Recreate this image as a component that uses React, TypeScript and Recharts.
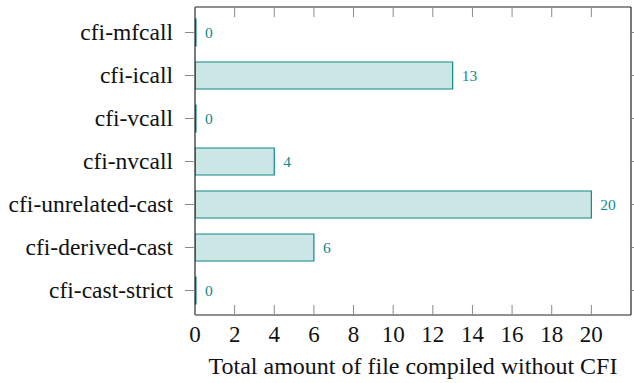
import React from "react";
import {
  BarChart,
  Bar,
  XAxis,
  YAxis,
  LabelList,
} from "recharts";

// Checks, listed top to bottom
const categories = [
  "cfi-mfcall",
  "cfi-icall",
  "cfi-vcall",
  "cfi-nvcall",
  "cfi-unrelated-cast",
  "cfi-derived-cast",
  "cfi-cast-strict",
];

// Number of files compiled without each check
const fileCounts = [0, 13, 0, 4, 20, 6, 0];

const xTicks = [0, 2, 4, 6, 8, 10, 12, 14, 16, 18, 20];
const xAxisTitle = "Total amount of file compiled without CFI";

const data = categories.map((name, i) => ({ name, value: fileCounts[i] }));

const SERIF = "'Liberation Serif', 'Times New Roman', serif";
const TEAL = "#0f8a8a";
const TICK_GRAY = "#8a8a8a";
const AXIS_DARK = "#222";

const BottomTick = (props: any) => {
  const { x, y, payload } = props;
  return (
    <g>
      <line x1={x} y1={y} x2={x} y2={y - 10} stroke={TICK_GRAY} strokeWidth={1} />
      <text
        x={x}
        y={y + 27}
        textAnchor="middle"
        fontFamily={SERIF}
        fontSize={23}
        fill="#111"
      >
        {payload.value}
      </text>
    </g>
  );
};

const TopTick = (props: any) => {
  const { x, y } = props;
  return <line x1={x} y1={y} x2={x} y2={y + 10} stroke={TICK_GRAY} strokeWidth={1} />;
};

const LeftTick = (props: any) => {
  const { x, y, payload } = props;
  return (
    <g>
      <line x1={x} y1={y} x2={x - 10} y2={y} stroke={TICK_GRAY} strokeWidth={1} />
      <text
        x={x - 22}
        y={y}
        dy="0.33em"
        textAnchor="end"
        fontFamily={SERIF}
        fontSize={23.5}
        fill="#111"
      >
        {payload.value}
      </text>
    </g>
  );
};

const RightTick = (props: any) => {
  const { x, y } = props;
  return <line x1={x} y1={y} x2={x + 8} y2={y} stroke={TICK_GRAY} strokeWidth={1} />;
};

const AxisTitle = (props: any) => {
  const { viewBox } = props;
  const cx = viewBox.x + viewBox.width / 2;
  return (
    <text
      x={cx}
      y={374}
      textAnchor="middle"
      fontFamily={SERIF}
      fontSize={24}
      fill="#111"
    >
      {xAxisTitle}
    </text>
  );
};

export default function App() {
  return (
    <div
      style={{
        position: "absolute",
        left: 0,
        top: 0,
        width: 634,
        height: 383,
        overflow: "hidden",
        background: "#fff",
      }}
    >
      {/* main chart: bars, left category axis, bottom value axis */}
      <div style={{ position: "absolute", left: 0, top: 0 }}>
        <BarChart
          width={634}
          height={383}
          data={data}
          layout="vertical"
          margin={{ top: 7, right: 3, bottom: 0, left: 0 }}
          barCategoryGap={0}
        >
          <XAxis
            type="number"
            domain={[0, 22]}
            ticks={xTicks}
            allowDataOverflow
            orientation="bottom"
            height={68}
            tickSize={0}
            tickMargin={0}
            tickLine={false}
            axisLine={{ stroke: AXIS_DARK, strokeWidth: 1.2 }}
            tick={<BottomTick />}
            interval={0}
            label={{ content: <AxisTitle /> }}
          />
          <YAxis
            type="category"
            dataKey="name"
            width={195}
            padding={{ top: 4, bottom: 3 }}
            tickSize={0}
            tickMargin={0}
            tickLine={false}
            axisLine={{ stroke: AXIS_DARK, strokeWidth: 1.2 }}
            tick={<LeftTick />}
            interval={0}
          />
          <Bar
            dataKey="value"
            barSize={27}
            minPointSize={1}
            fill="#cce5e5"
            stroke={TEAL}
            strokeWidth={1.2}
            isAnimationActive={false}
          >
            <LabelList
              dataKey="value"
              position="right"
              offset={9}
              fontFamily={SERIF}
              fontSize={15.5}
              fill={TEAL}
            />
          </Bar>
        </BarChart>
      </div>

      {/* mirrored frame: top value axis and right category axis */}
      <div style={{ position: "absolute", left: 0, top: -23, pointerEvents: "none" }}>
        <BarChart
          width={691}
          height={406}
          data={data}
          layout="vertical"
          margin={{ top: 0, right: 0, bottom: 68, left: 195 }}
          barCategoryGap={0}
        >
          <XAxis
            type="number"
            domain={[0, 22]}
            ticks={xTicks}
            allowDataOverflow
            orientation="top"
            height={30}
            tickSize={0}
            tickMargin={0}
            tickLine={false}
            axisLine={{ stroke: AXIS_DARK, strokeWidth: 1.2 }}
            tick={<TopTick />}
            interval={0}
          />
          <YAxis
            type="category"
            dataKey="name"
            orientation="right"
            width={60}
            padding={{ top: 4, bottom: 3 }}
            tickSize={0}
            tickMargin={0}
            tickLine={false}
            axisLine={{ stroke: AXIS_DARK, strokeWidth: 1.2 }}
            tick={<RightTick />}
            interval={0}
          />
          <Bar
            dataKey="value"
            barSize={27}
            fill="none"
            stroke="none"
            isAnimationActive={false}
          />
        </BarChart>
      </div>
    </div>
  );
}
